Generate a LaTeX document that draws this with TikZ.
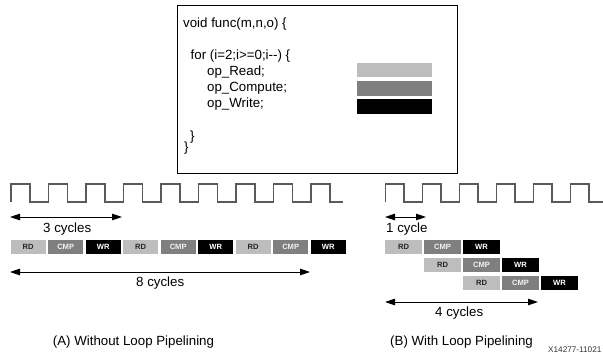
\documentclass[tikz,border=0pt]{standalone}
\usepackage{fontspec}
\setmainfont{Liberation Sans}
\usetikzlibrary{arrows.meta}
\definecolor{rdgray}{HTML}{BDBDBD}
\definecolor{cmpgray}{HTML}{7F7F7F}
\definecolor{clk}{HTML}{5A5A5A}
\tikzset{
  code/.style={anchor=base west, inner sep=0pt, font=\fontsize{13.3}{16}\selectfont},
  lbl/.style={anchor=base west, inner sep=0pt, font=\fontsize{13.3}{16}\selectfont},
  opbox/.style={draw=none, inner sep=0pt, minimum height=14.5pt, font=\fontsize{7.6}{8}\selectfont\bfseries},
  rdbox/.style={opbox, fill=rdgray, text=black!85},
  cmpbox/.style={opbox, fill=cmpgray, text=white!90!gray},
  wrbox/.style={opbox, fill=black, text=white},
  bar/.style={draw=none, inner sep=0pt, minimum width=75pt, minimum height=14.5pt},
  clock/.style={draw=clk, line width=1.2pt},
  span/.style={draw=black, line width=0.9pt, {Triangle[length=10pt,width=6.5pt]}-{Triangle[length=10pt,width=6.5pt]}},
}
\begin{document}
\begin{tikzpicture}[x=1pt,y=-1pt]
\useasboundingbox (0,0) rectangle (603,362);
\fill[white] (0,0) rectangle (603,362);

% code box
\node[draw=black, line width=1.2pt, inner sep=0pt, minimum width=280pt, minimum height=168pt, anchor=north west] (codebox) at (177,5) {};
\node[code] (l1) at (183,27) {void func(m,n,o) \{};
\node[code] (l2) at (190.5,59.5) {for (i=2;i>=0;i-{}-) \{};
\node[code] (l3) at (207,75.5) {op\_Read;};
\node[code] (l4) at (207,91.5) {op\_Compute;};
\node[code] (l5) at (207,107.5) {op\_Write;};
\node[code] (l6) at (190,140.5) {\}};
\node[code] (l7) at (184,151.5) {\}};
\node[bar, fill=rdgray] (barrd) at (394.5,70) {};
\node[bar, fill=cmpgray] (barcmp) at (394.5,88.5) {};
\node[bar, fill=black] (barwr) at (394.5,106.5) {};

% clock A
\draw[clock] (11,202)
  \foreach \k in {0,...,8} { -- ({11+37.5*\k},202) -- ({11+37.5*\k},184) -- ({30+37.5*\k},184) -- ({30+37.5*\k},202) }
  -- (343,202);
% clock B
\draw[clock] (385.5,202)
  \foreach \k in {0,...,5} { -- ({385.5+37*\k},202) -- ({385.5+37*\k},184) -- ({404+37*\k},184) -- ({404+37*\k},202) }
  -- (604,202);

% A: without pipelining
\coordinate (a3s) at (10,217);
\coordinate (a3e) at (122,217);
\draw[span] (a3s) -- (a3e);
\node[lbl] (t3) at (43,232.5) {3 cycles};
\foreach \i in {0,1,2} {
  \node[rdbox, minimum width=35pt] (ard\i) at ({28.2+112.5*\i},247) {RD};
  \node[cmpbox, minimum width=35pt] (acmp\i) at ({65.7+112.5*\i},247) {CMP};
  \node[wrbox, minimum width=35pt] (awr\i) at ({103.2+112.5*\i},247) {WR};
}
\coordinate (a8s) at (10,272);
\coordinate (a8e) at (310,272);
\draw[span] (a8s) -- (a8e);
\node[lbl] (t8) at (136,286.5) {8 cycles};

% B: with pipelining
\coordinate (b1s) at (385,217);
\coordinate (b1e) at (426,217);
\draw[span] (b1s) -- (b1e);
\node[lbl] (t1) at (386,232.5) {1 cycle};
\foreach \i in {0,1,2} {
  \node[rdbox, minimum width=37pt] (brd\i) at ({403.5+39*\i},{247+18*\i}) {RD};
  \node[cmpbox, minimum width=37pt] (bcmp\i) at ({442.5+39*\i},{247+18*\i}) {CMP};
  \node[wrbox, minimum width=37pt] (bwr\i) at ({481.5+39*\i},{247+18*\i}) {WR};
}
\coordinate (b4s) at (385,302);
\coordinate (b4e) at (538,302);
\draw[span] (b4s) -- (b4e);
\node[lbl] (t4) at (435,316.5) {4 cycles};

% captions
\node[lbl] (capa) at (52.7,345) {(A) Without Loop Pipelining};
\node[lbl] (capb) at (390,345) {(B) With Loop Pipelining};
\node[anchor=base west, inner sep=0pt, font=\fontsize{8.2}{9}\selectfont, text=black!80] (fig) at (548,352) {X14277-11021};
\end{tikzpicture}
\end{document}
